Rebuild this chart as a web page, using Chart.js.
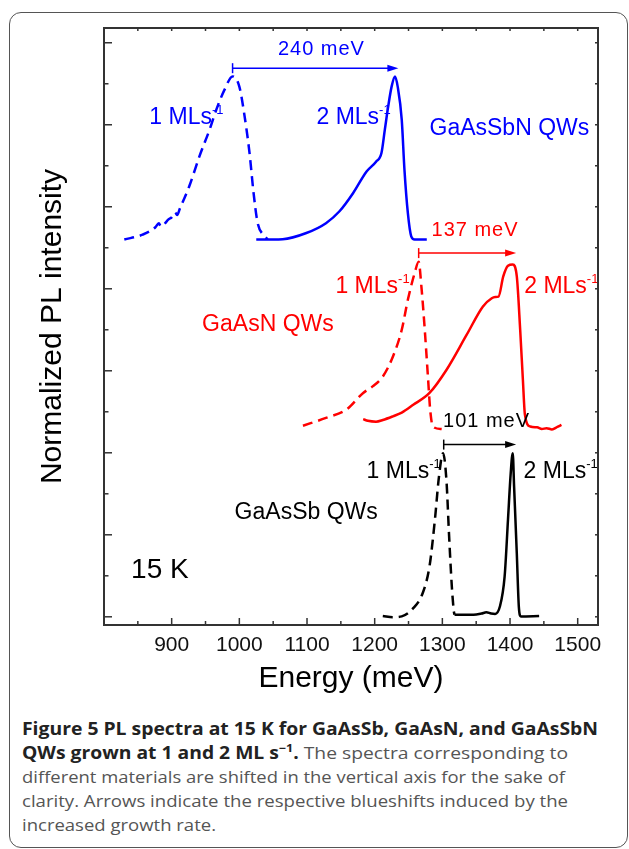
<!DOCTYPE html>
<html>
<head>
<meta charset="utf-8">
<script src="https://cdn.jsdelivr.net/npm/chart.js@4.4.1/dist/chart.umd.min.js"></script>
<style>
html,body{margin:0;padding:0;background:#fff;}
body{width:629px;height:849px;position:relative;overflow:hidden;font-family:"Open Sans",sans-serif;}
#frame{position:absolute;left:9px;top:12px;width:619px;height:836px;border:1.5px solid #555;border-radius:12px;box-sizing:border-box;}
#wrap{position:absolute;left:0;top:0;width:629px;height:710px;}
.cap{position:absolute;left:22px;white-space:nowrap;font-size:17px;line-height:24px;transform-origin:0 50%;color:#555;}
.cap b{color:#222;font-weight:700;}
.cap sup{font-size:11px;line-height:0;vertical-align:7px;}
</style>
</head>
<body>
<div id="frame"></div>
<div id="wrap"><canvas id="c" width="629" height="710"></canvas></div>
<div class="cap" id="l1"><b>Figure 5 PL spectra at 15 K for GaAsSb, GaAsN, and GaAsSbN</b></div>
<div class="cap" id="l2"><b>QWs grown at 1 and 2 ML s<sup>−1</sup>.</b> The spectra corresponding to</div>
<div class="cap" id="l3">different materials are shifted in the vertical axis for the sake of</div>
<div class="cap" id="l4">clarity. Arrows indicate the respective blueshifts induced by the</div>
<div class="cap" id="l5">increased growth rate.</div>
<script>
// ---------- DATA (energy in meV, shifted normalized PL intensity) ----------
const sbn1_E = [830, 857, 876, 881, 884, 896, 900, 905, 908, 912, 926, 941, 956, 966, 978, 990, 1000, 1007, 1015, 1021, 1027, 1035, 1042];
const sbn1_I = [9.20, 9.32, 9.50, 9.60, 9.52, 9.70, 9.74, 9.86, 9.80, 9.95, 10.50, 11.23, 11.88, 12.37, 12.85, 13.18, 12.93, 12.29, 11.32, 10.34, 9.61, 9.32, 9.21];
const sbn2_E = [1025, 1064, 1099, 1128, 1148, 1168, 1188, 1202, 1210, 1215, 1220, 1225, 1230, 1234, 1240, 1244, 1249, 1254, 1259, 1277];
const sbn2_I = [9.20, 9.21, 9.36, 9.60, 9.89, 10.33, 10.86, 11.10, 11.31, 11.88, 12.45, 12.93, 13.18, 12.93, 12.12, 10.90, 9.85, 9.28, 9.20, 9.20];
const n1_E = [1094, 1128, 1158, 1183, 1197, 1212, 1227, 1240, 1249, 1259, 1265, 1269, 1274, 1279, 1282, 1286, 1299];
const n1_I = [4.66, 4.85, 5.05, 5.46, 5.62, 5.86, 6.35, 7.00, 7.73, 8.38, 8.66, 8.06, 7.00, 5.78, 5.05, 4.64, 4.58];
const n2_E = [1183, 1190, 1202, 1212, 1227, 1240, 1257, 1281, 1306, 1336, 1360, 1373, 1378, 1383, 1390, 1397, 1404, 1410, 1415, 1419, 1422, 1430, 1440, 1447, 1454, 1462, 1470, 1476];
const n2_I = [4.82, 4.78, 4.76, 4.80, 4.89, 4.98, 5.17, 5.46, 6.02, 6.88, 7.57, 7.77, 7.80, 7.81, 8.30, 8.56, 8.59, 8.30, 7.00, 5.78, 4.93, 4.64, 4.62, 4.58, 4.60, 4.57, 4.63, 4.68];
const sb1_E = [1212, 1227, 1240, 1257, 1271, 1281, 1289, 1295, 1301, 1306, 1310, 1314, 1317, 1318];
const sb1_I = [0.02, -0.01, 0.01, 0.21, 0.58, 1.23, 2.37, 3.42, 3.99, 3.34, 1.96, 0.74, 0.13, 0.05];
const sb2_E = [1318, 1346, 1358, 1365, 1372, 1378, 1385, 1392, 1397, 1401, 1404, 1406, 1410, 1413, 1416, 1443];
const sb2_I = [0.05, 0.05, 0.08, 0.11, 0.08, 0.07, 0.25, 0.98, 2.37, 3.50, 3.99, 3.18, 1.55, 0.25, 0.01, 0.02];

const xTickLabels = [900, 1000, 1100, 1200, 1300, 1400, 1500];
const xTickValues = [800, 850, 900, 950, 1000, 1050, 1100, 1150, 1200, 1250, 1300, 1350, 1400, 1450, 1500];
const yTickValues = [0, 1, 2, 3, 4, 5, 6, 7, 8, 9, 10, 11, 12, 13, 14];

// annotations: text, superscript, energy, intensity (baseline), colour, font size
const labelTexts = ['1 MLs', '2 MLs', 'GaAsSbN QWs', '1 MLs', '2 MLs', 'GaAsN QWs', '1 MLs', '2 MLs', 'GaAsSb QWs', '15 K'];
const labelSups  = ['-1', '-1', '', '-1', '-1', '', '-1', '-1', '', ''];
const labelE     = [867, 1114, 1281, 1142, 1421, 945, 1188, 1420, 993, 840];
const labelI     = [12.02, 12.02, 11.76, 7.90, 7.90, 6.96, 3.38, 3.38, 2.38, 0.94];
const labelColor = ['#0000ff', '#0000ff', '#0000ff', '#ff0000', '#ff0000', '#ff0000', '#000', '#000', '#000', '#000'];
const labelSize  = [23, 23, 23, 23, 23, 23, 23, 23, 23, 28];

// blueshift arrows
const shiftTexts = ['240 meV', '137 meV', '101 meV'];
const shiftFrom  = [990, 1265, 1302];
const shiftTo    = [1235, 1409, 1409];
const shiftAt    = [13.38, 8.87, 4.20];
const shiftTextE = [1057, 1284, 1301];
const shiftTextI = [13.71, 9.29, 4.64];
const shiftColor = ['#0000ff', '#ff0000', '#000'];

// ---------- CHART ----------
const pts = (E, I) => E.map((e, i) => ({x: e, y: I[i]}));
const ds = (E, I, color, dashed) => ({
  data: pts(E, I), borderColor: color, borderWidth: 2.5, pointRadius: 0,
  borderDash: dashed ? [10, 6] : [], fill: false, cubicInterpolationMode: 'monotone'
});
const FONT = '"Liberation Sans", Arial, sans-serif';

const boxPlugin = {
  id: 'box',
  afterDraw(chart) {
    const {ctx, chartArea: {left, right, top, bottom}, scales: {x, y}} = chart;
    ctx.save();
    ctx.strokeStyle = '#333';
    ctx.lineWidth = 1.5;
    x.ticks.forEach(t => {
      const p = x.getPixelForValue(t.value);
      const major = t.value % 100 === 0;
      ctx.beginPath(); ctx.moveTo(p, bottom); ctx.lineTo(p, bottom - (major ? 7 : 4)); ctx.stroke();
      ctx.beginPath(); ctx.moveTo(p, top); ctx.lineTo(p, top + 3); ctx.stroke();
    });
    y.ticks.forEach(t => {
      const p = y.getPixelForValue(t.value);
      const major = t.value % 2 === 0;
      ctx.beginPath(); ctx.moveTo(left, p); ctx.lineTo(left + (major ? 8 : 4.5), p); ctx.stroke();
      ctx.beginPath(); ctx.moveTo(right, p); ctx.lineTo(right - 3, p); ctx.stroke();
    });
    ctx.lineWidth = 2;
    ctx.strokeRect(left, top, right - left, bottom - top);
    ctx.restore();
  }
};

const annotPlugin = {
  id: 'annot',
  afterDatasetsDraw(chart) {
    const {ctx, scales: {x, y}} = chart;
    ctx.save();
    ctx.textBaseline = 'alphabetic';
    ctx.textAlign = 'left';
    labelTexts.forEach((txt, i) => {
      const px = x.getPixelForValue(labelE[i]);
      const py = y.getPixelForValue(labelI[i]);
      ctx.fillStyle = labelColor[i];
      ctx.font = labelSize[i] + 'px ' + FONT;
      ctx.fillText(txt, px, py);
      if (labelSups[i]) {
        const w = ctx.measureText(txt).width;
        ctx.font = '13px ' + FONT;
        ctx.fillText(labelSups[i], px + w, py - 10);
      }
    });
    shiftTexts.forEach((txt, i) => {
      const col = shiftColor[i];
      ctx.strokeStyle = col; ctx.fillStyle = col; ctx.lineWidth = 1.5;
      const x0 = x.getPixelForValue(shiftFrom[i]);
      const x1 = x.getPixelForValue(shiftTo[i]);
      const py = y.getPixelForValue(shiftAt[i]);
      ctx.beginPath(); ctx.moveTo(x0, py); ctx.lineTo(x1 - 8, py); ctx.stroke();
      ctx.beginPath(); ctx.moveTo(x0, py - 5); ctx.lineTo(x0, py + 5); ctx.stroke();
      ctx.beginPath(); ctx.moveTo(x1, py); ctx.lineTo(x1 - 11, py - 3.5); ctx.lineTo(x1 - 11, py + 3.5); ctx.closePath(); ctx.fill();
      ctx.font = '20px ' + FONT;
      if ('letterSpacing' in ctx) ctx.letterSpacing = '1px';
      ctx.fillText(txt, x.getPixelForValue(shiftTextE[i]), y.getPixelForValue(shiftTextI[i]));
      if ('letterSpacing' in ctx) ctx.letterSpacing = '0px';
    });
    ctx.restore();
  }
};

new Chart(document.getElementById('c'), {
  type: 'line',
  data: {
    datasets: [
      ds(sbn1_E, sbn1_I, '#0000ff', true),
      ds(sbn2_E, sbn2_I, '#0000ff', false),
      ds(n1_E, n1_I, '#ff0000', true),
      ds(n2_E, n2_I, '#ff0000', false),
      ds(sb1_E, sb1_I, '#000000', true),
      ds(sb2_E, sb2_I, '#000000', false)
    ]
  },
  options: {
    responsive: false,
    animation: false,
    events: [],
    layout: {padding: {top: 28, right: 31, left: 0, bottom: 0}},
    plugins: {legend: {display: false}, tooltip: {enabled: false}},
    scales: {
      x: {
        type: 'linear', min: 800, max: 1530,
        grid: {display: false}, border: {display: false},
        afterBuildTicks: s => { s.ticks = xTickValues.map(v => ({value: v})); },
        afterFit: s => { s.height = 85; },
        ticks: {
          autoSkip: false, maxRotation: 0, padding: 0,
          color: '#111', font: {family: FONT, size: 21},
          callback: v => xTickLabels.includes(v) ? String(v) : ''
        },
        title: {display: true, text: 'Energy (meV)', color: '#000',
          font: {family: FONT, size: 30}, padding: {top: 0, bottom: 13}}
      },
      y: {
        type: 'linear', min: -0.2, max: 14.36,
        grid: {display: false}, border: {display: false},
        afterBuildTicks: s => { s.ticks = yTickValues.map(v => ({value: v})); },
        afterFit: s => { s.width = 104; },
        ticks: {display: false},
        title: {display: true, text: 'Normalized PL intensity', color: '#000',
          font: {family: FONT, size: 30}, padding: {top: 35, bottom: 0}}
      }
    }
  },
  plugins: [boxPlugin, annotPlugin]
});

// caption layout: fit each line to the width it takes in the figure
const capTops = [729, 753, 777, 801, 825];
const capWidths = [576, 546, 543, 546, 194];
['l1', 'l2', 'l3', 'l4', 'l5'].forEach((id, i) => {
  const el = document.getElementById(id);
  el.style.top = (capTops[i] - 12) + 'px';
  const w = el.getBoundingClientRect().width;
  el.style.transform = 'scaleX(' + (capWidths[i] / w) + ')';
});
</script>
</body>
</html>
